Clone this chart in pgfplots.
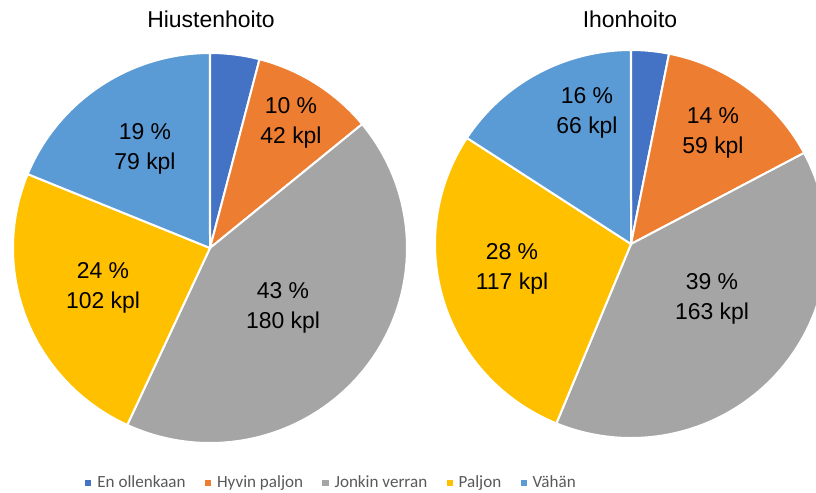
\documentclass[border=0pt]{standalone}
\usepackage{pgfplots}
\pgfplotsset{compat=1.18}
\usepackage{pgfplotstable}
\usepackage{fontspec}
\setmainfont{Liberation Sans}
\newfontfamily\legfont{Carlito}
\definecolor{cA}{HTML}{4472C4}
\definecolor{cB}{HTML}{ED7D31}
\definecolor{cC}{HTML}{A5A5A5}
\definecolor{cD}{HTML}{FFC000}
\definecolor{cE}{HTML}{5B9BD5}
\definecolor{legtext}{HTML}{595959}

% values (kpl)
\pgfplotstableread{
cat value
EnOllenkaan 17
HyvinPaljon 42
JonkinVerran 180
Paljon 102
Vahan 79
}\hiust
\pgfplotstableread{
cat value
EnOllenkaan 13
HyvinPaljon 59
JonkinVerran 163
Paljon 117
Vahan 66
}\ihon

% compute cumulative angles (clockwise from top)
\newcommand\getangles[2]{%
  \gdef\tot{0}%
  \foreach \r in {0,...,4}{%
    \pgfplotstablegetelem{\r}{value}\of#1%
    \pgfmathsetmacro\tmp{\tot+\pgfplotsretval}%
    \global\let\tot\tmp
  }%
  \gdef\cum{0}%
  \expandafter\xdef\csname #2a0\endcsname{0}%
  \foreach \r/\n in {0/1,1/2,2/3,3/4,4/5}{%
    \pgfplotstablegetelem{\r}{value}\of#1%
    \pgfmathsetmacro\tmp{\cum+360*(\pgfplotsretval/\tot)}%
    \global\let\cum\tmp
    \expandafter\xdef\csname #2a\n\endcsname{\cum}%
  }%
}

% cx cy rx ry start end colour
\newcommand\slice[8][]{%
  \addplot[fill=#8, draw=white, line width=1.5pt, domain=#6:#7, samples=90,
    variable=\t, #1] ({#2+#4*sin(\t)},{#3-#5*cos(\t)}) -- (axis cs:#2,#3) -- cycle;
}

\begin{document}
\begin{tikzpicture}
\getangles{\hiust}{H}
\getangles{\ihon}{I}
\begin{axis}[
  scale only axis, width=612pt, height=369pt,
  xmin=0, xmax=816, ymin=0, ymax=492, y dir=reverse,
  hide axis,
  legend image code/.code={\fill[#1, draw=none] (0pt,-2.3pt) rectangle (4.6pt,2.3pt);},
  legend style={at={(axis cs:85,483)}, anchor=west, legend columns=5,
    draw=none, fill=none, font=\legfont\fontsize{12.8}{14}\selectfont, text=legtext,
    /tikz/every even column/.append style={column sep=12.5pt},
    /tikz/every odd column/.append style={column sep=2.5pt},
    inner sep=0pt},
]
\slice{210}{248}{197}{195}{\csname Ha0\endcsname}{\csname Ha1\endcsname}{cA}
\addlegendentry{En ollenkaan}
\slice{210}{248}{197}{195}{\csname Ha1\endcsname}{\csname Ha2\endcsname}{cB}
\addlegendentry{Hyvin paljon}
\slice{210}{248}{197}{195}{\csname Ha2\endcsname}{\csname Ha3\endcsname}{cC}
\addlegendentry{Jonkin verran}
\slice{210}{248}{197}{195}{\csname Ha3\endcsname}{\csname Ha4\endcsname}{cD}
\addlegendentry{Paljon}
\slice{210}{248}{197}{195}{\csname Ha4\endcsname}{\csname Ha5\endcsname}{cE}
\addlegendentry{Vähän}

\slice[forget plot]{631}{244}{196}{194}{\csname Ia0\endcsname}{\csname Ia1\endcsname}{cA}
\slice[forget plot]{631}{244}{196}{194}{\csname Ia1\endcsname}{\csname Ia2\endcsname}{cB}
\slice[forget plot]{631}{244}{196}{194}{\csname Ia2\endcsname}{\csname Ia3\endcsname}{cC}
\slice[forget plot]{631}{244}{196}{194}{\csname Ia3\endcsname}{\csname Ia4\endcsname}{cD}
\slice[forget plot]{631}{244}{196}{194}{\csname Ia4\endcsname}{\csname Ia5\endcsname}{cE}

\begin{scope}[every node/.style={font=\fontsize{17.2}{22}\selectfont, align=center, inner sep=0pt}]
\node at (axis cs:211,19) {Hiustenhoito};
\node at (axis cs:630,19) {Ihonhoito};
\node at (axis cs:291,123) {10 \%\\42 kpl};
\node at (axis cs:283,308) {43 \%\\180 kpl};
\node at (axis cs:103,288) {24 \%\\102 kpl};
\node at (axis cs:145,149) {19 \%\\79 kpl};
\node at (axis cs:587,113) {16 \%\\66 kpl};
\node at (axis cs:713,133) {14 \%\\59 kpl};
\node at (axis cs:512,269) {28 \%\\117 kpl};
\node at (axis cs:712,299) {39 \%\\163 kpl};
\end{scope}
\end{axis}
\pgfresetboundingbox
\path (current axis.south west) rectangle (current axis.north east);
\end{tikzpicture}
\end{document}
